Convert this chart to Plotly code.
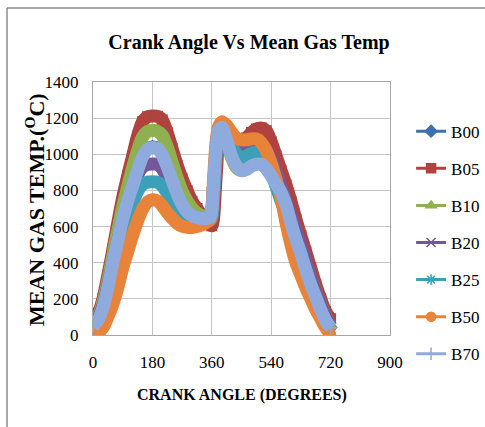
import plotly.graph_objects as go

# Crank angle (degrees) sampled along the engine cycle
crank_angle = [0, 15, 30, 45, 60, 75, 90, 105, 120, 135, 150, 165, 180, 195, 210,
               225, 240, 255, 270, 285, 300, 315, 330, 345, 355, 360, 365, 370,
               375, 380, 390, 405, 420, 435, 450, 465, 480, 495, 510, 525, 540,
               555, 570, 585, 600, 615, 630, 645, 660, 675, 690, 705, 720]

# Mean gas temperature (deg C) for each blend
b00 = [55, 85, 155, 265, 405, 525, 645, 745, 830, 915, 990, 1030, 1040, 1035, 1000,
       935, 860, 785, 725, 685, 663, 652, 647, 646, 650, 685, 815, 955,
       1065, 1128, 1152, 1085, 995, 940, 915, 920, 940, 950, 950, 925, 885,
       838, 792, 722, 622, 532, 452, 362, 282, 212, 142, 82, 42]
b05 = [90, 120, 200, 330, 470, 620, 760, 880, 990, 1100, 1180, 1208, 1212, 1210, 1190,
       1120, 1030, 940, 865, 800, 740, 700, 660, 630, 610, 605, 640, 780,
       930, 1060, 1130, 1110, 1070, 1050, 1060, 1090, 1120, 1140, 1145, 1130, 1070,
       990, 910, 830, 740, 640, 550, 460, 370, 280, 200, 130, 90]
b10 = [70, 100, 180, 300, 440, 580, 710, 820, 925, 1020, 1095, 1126, 1131, 1128, 1105,
       1040, 955, 870, 795, 742, 702, 676, 660, 650, 650, 660, 750, 900,
       1030, 1100, 1140, 1070, 980, 925, 910, 925, 955, 980, 990, 975, 930,
       860, 790, 720, 640, 560, 480, 400, 320, 240, 170, 100, 50]
b20 = [60, 90, 160, 270, 400, 520, 630, 730, 815, 885, 930, 944, 946, 944, 920,
       865, 800, 740, 698, 672, 656, 646, 640, 640, 645, 660, 760, 910,
       1040, 1110, 1150, 1110, 1060, 1030, 1020, 1030, 1040, 1050, 1045, 1020, 970,
       900, 820, 740, 660, 580, 500, 410, 320, 240, 170, 100, 50]
b25 = [50, 70, 140, 240, 360, 470, 570, 655, 730, 795, 833, 846, 848, 845, 825,
       785, 738, 695, 663, 647, 636, 628, 625, 628, 635, 650, 780, 940,
       1060, 1130, 1165, 1120, 1050, 1000, 985, 990, 1005, 1010, 1000, 965, 900,
       820, 740, 670, 600, 520, 440, 360, 270, 190, 120, 50, 10]
b50 = [30, 15, 40, 100, 170, 260, 370, 460, 550, 630, 695, 735, 748, 742, 715,
       678, 645, 618, 602, 596, 595, 600, 610, 625, 640, 700, 850, 1000,
       1100, 1150, 1180, 1160, 1120, 1090, 1080, 1080, 1085, 1085, 1065, 1020, 950,
       860, 760, 620, 500, 400, 330, 260, 200, 140, 90, 40, 5]
b70 = [50, 80, 150, 260, 400, 520, 640, 740, 825, 910, 985, 1028, 1038, 1032, 995,
       930, 855, 782, 722, 682, 661, 650, 645, 645, 650, 690, 820, 960,
       1070, 1130, 1150, 1080, 990, 935, 910, 915, 935, 945, 945, 920, 880,
       835, 790, 720, 620, 530, 450, 360, 280, 210, 140, 80, 40]

series_names = ["B00", "B05", "B10", "B20", "B25", "B50", "B70"]
series_values = [b00, b05, b10, b20, b25, b50, b70]
series_colors = ["#3F6FAE", "#B0433F", "#8FB050", "#73589A", "#3DA0B8", "#E8833A", "#8FAADC"]
series_symbols = ["diamond", "square", "triangle-up", "x-thin-open", "asterisk-open",
                  "circle", "cross-thin-open"]

serif = "Liberation Serif"

fig = go.Figure()

# Thick banded curves for every blend
for name, vals, col, sym in zip(series_names, series_values, series_colors, series_symbols):
    fig.add_trace(go.Scatter(
        x=crank_angle, y=vals, mode="lines+markers", name=name,
        line=dict(color=col, width=13, shape="spline", smoothing=0.8),
        marker=dict(symbol=sym, size=9, color=col, line=dict(color=col, width=2)),
        showlegend=False, hoverinfo="x+y+name"))

# Legend entries drawn with a thin line and the series marker
for name, col, sym in zip(series_names, series_colors, series_symbols):
    fig.add_trace(go.Scatter(
        x=[None], y=[None], mode="lines+markers", name=name, legendgroup=name,
        line=dict(color=col, width=3),
        marker=dict(symbol=sym, size=9, color=col, line=dict(color=col, width=1.5))))

grid = "#c4c4c4"
fig.update_layout(
    width=485, height=427,
    margin=dict(l=93, r=95, t=82, b=92, autoexpand=False),
    paper_bgcolor="white", plot_bgcolor="white",
    font=dict(family=serif, color="black"),
    title=dict(text="<b>Crank Angle Vs Mean Gas Temp</b>", x=249 / 485, xref="container",
               xanchor="center", y=1 - 42 / 427, yref="container", yanchor="middle",
               font=dict(family=serif, size=20, color="black")),
    xaxis=dict(range=[0, 900], tickmode="linear", tick0=0, dtick=180,
               showgrid=True, gridcolor=grid, gridwidth=1, zeroline=False,
               showline=True, linecolor="#a6a6a6", linewidth=1, mirror=True,
               ticks="", ticklabelstandoff=12,
               tickfont=dict(family=serif, size=17, color="black")),
    yaxis=dict(range=[0, 1400], tickmode="linear", tick0=0, dtick=200,
               showgrid=True, gridcolor=grid, gridwidth=1, zeroline=False,
               showline=True, linecolor="#a6a6a6", linewidth=1, mirror=True,
               ticks="", ticklabelstandoff=10,
               tickfont=dict(family=serif, size=17, color="black")),
    legend=dict(x=1.071, xanchor="left", y=0.875, yanchor="top",
                font=dict(family=serif, size=17, color="black"),
                tracegroupgap=12, itemwidth=30, bgcolor="rgba(0,0,0,0)",
                maxheight=420),
    annotations=[
        dict(text="<b>CRANK ANGLE (DEGREES)</b>", xref="paper", yref="paper",
             x=(242 - 93) / 297, y=(335 - 395) / 253, xanchor="center", yanchor="middle",
             showarrow=False, font=dict(family=serif, size=16, color="black")),
        dict(text="<b>MEAN GAS TEMP.(<sup>O</sup>C)</b>", xref="paper", yref="paper",
             x=(35 - 93) / 297, y=(335 - 210) / 253, xanchor="center", yanchor="middle",
             textangle=-90, showarrow=False,
             font=dict(family=serif, size=22, color="black")),
    ],
    shapes=[
        # chart frame (top and left edges)
        dict(type="line", xref="paper", yref="paper",
             x0=(7 - 93) / 297, x1=(485 - 93) / 297, y0=(335 - 8) / 253, y1=(335 - 8) / 253,
             line=dict(color="#8c8c8c", width=1.5)),
        dict(type="line", xref="paper", yref="paper",
             x0=(7 - 93) / 297, x1=(7 - 93) / 297, y0=(335 - 8) / 253, y1=(335 - 427) / 253,
             line=dict(color="#8c8c8c", width=1.5)),
    ],
)

fig.write_html("out.html")
